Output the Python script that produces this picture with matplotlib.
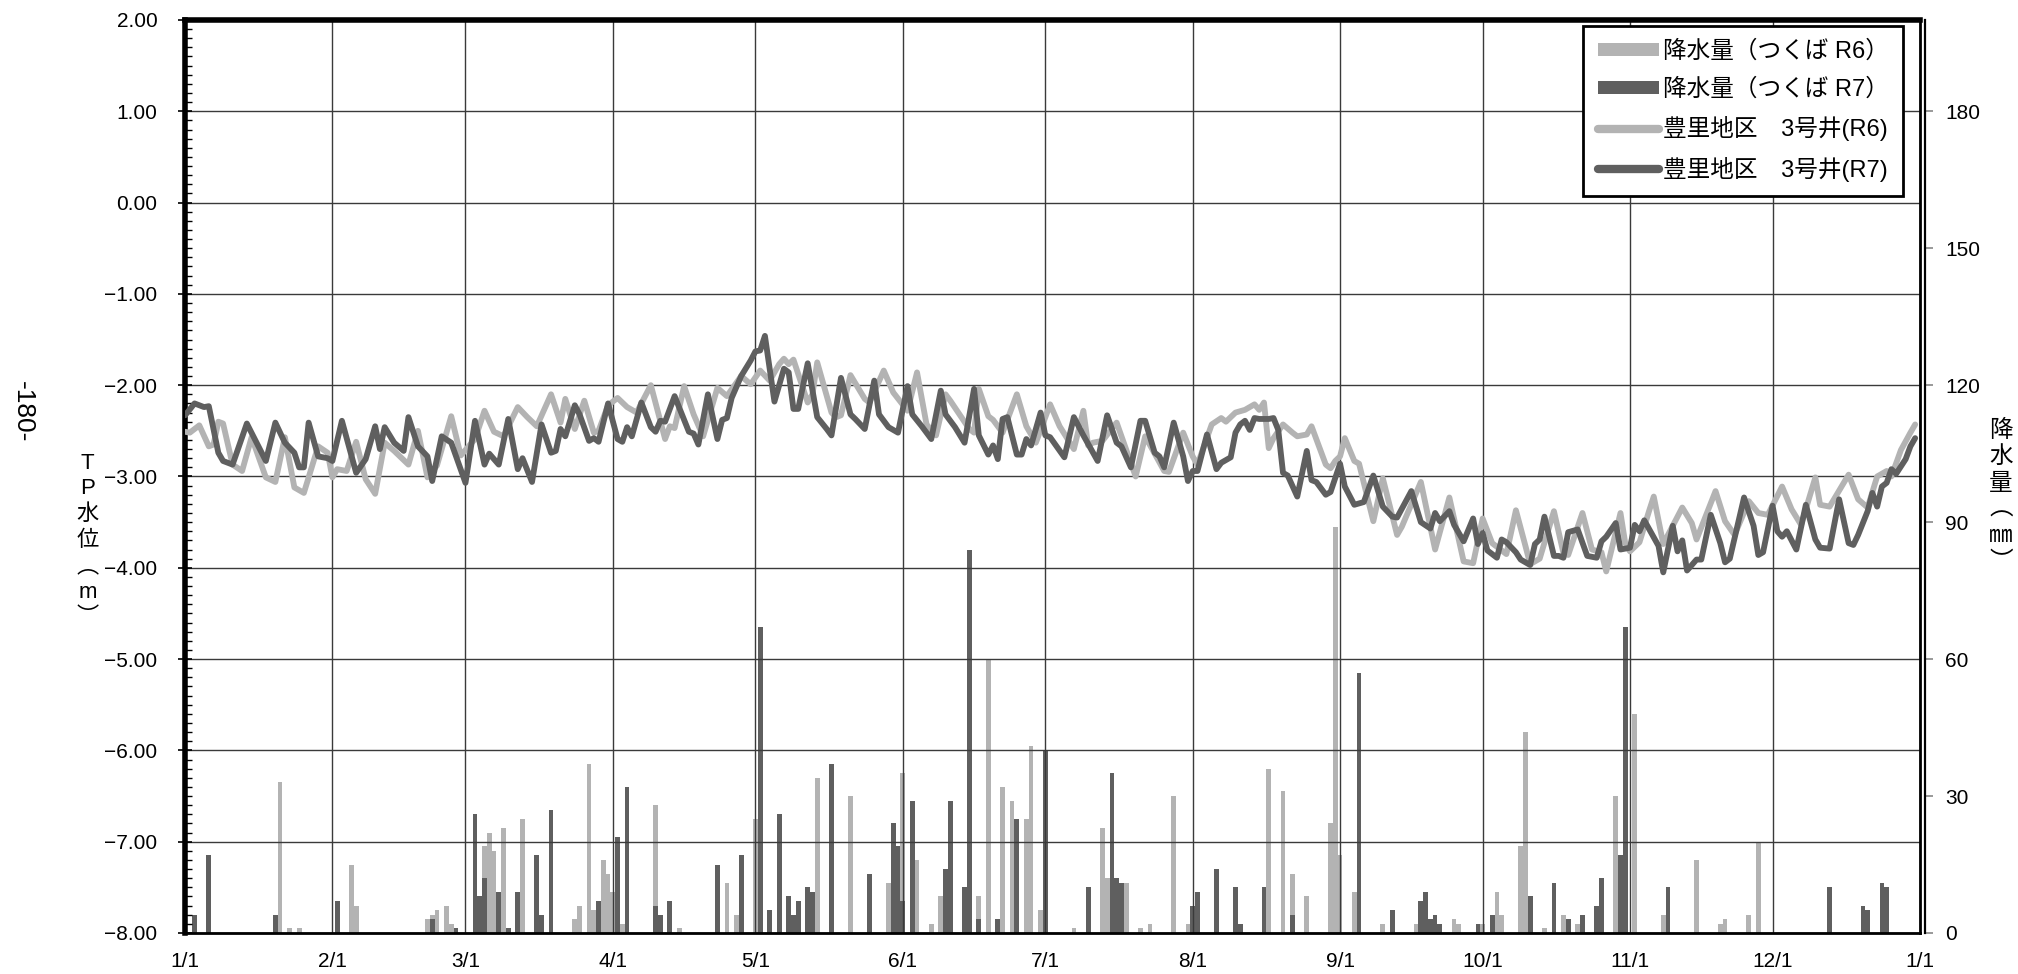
import matplotlib
matplotlib.use("Agg")
import matplotlib.pyplot as plt
from matplotlib.lines import Line2D
from matplotlib.patches import Patch
from matplotlib.ticker import MultipleLocator, FuncFormatter

plt.rcParams['font.family'] = ['Liberation Sans', 'Noto Sans CJK JP', 'DejaVu Sans']

# x axis: day of year (0 = 1/1)
month_days = [0, 31, 59, 90, 120, 151, 181, 212, 243, 273, 304, 334, 365]
month_labels = ["1/1", "2/1", "3/1", "4/1", "5/1", "6/1", "7/1",
                "8/1", "9/1", "10/1", "11/1", "12/1", "1/1"]

# groundwater level T.P. (m), R6 (light)
r6_days = [0, 1, 3, 5, 6, 7, 8, 10, 12, 14, 17, 19, 21, 23, 25, 28, 30, 31, 32, 34,
           36, 38, 40, 42, 44, 47, 49, 51, 53, 56, 58, 61, 63, 65, 67, 70, 72, 74, 77, 79,
           80, 82, 84, 86, 87, 89, 91, 93, 95, 98, 101, 102, 103, 105, 107, 109, 112, 114, 117, 119,
           121, 123, 125, 126, 127, 128, 131, 132, 133, 136, 137, 138, 140, 143, 144, 147, 149, 152, 154, 156,
           158, 160, 161, 165, 166, 167, 169, 170, 172, 175, 177, 179, 182, 184, 187, 189, 190, 191, 193, 196,
           200, 202, 206, 207, 210, 212, 213, 216, 218, 219, 221, 223, 225, 226, 227, 228, 229, 231, 233, 234,
           236, 237, 240, 241, 242, 243, 244, 246, 247, 250, 252, 255, 256, 260, 263, 266, 269, 271, 273, 275,
           278, 280, 282, 283, 285, 288, 290, 291, 294, 296, 298, 299, 302, 303, 304, 306, 308, 309, 311, 315,
           317, 318, 322, 324, 326, 329, 331, 333, 336, 338, 340, 343, 344, 346, 350, 352, 354, 356, 358, 359,
           361, 363, 364]
r6_level = [-2.51, -2.52, -2.44, -2.67, -2.65, -2.40, -2.42, -2.87, -2.94, -2.57, -3.01, -3.06, -2.57, -3.12, -3.18, -2.67, -2.74, -3.01, -2.92, -2.94,
            -2.62, -3.03, -3.19, -2.63, -2.72, -2.87, -2.50, -3.01, -2.88, -2.34, -2.77, -2.59, -2.28, -2.51, -2.56, -2.24, -2.35, -2.45, -2.10, -2.41,
            -2.15, -2.48, -2.17, -2.52, -2.50, -2.22, -2.14, -2.24, -2.30, -2.00, -2.59, -2.45, -2.47, -2.01, -2.32, -2.56, -2.03, -2.12, -1.90, -1.99,
            -1.84, -1.95, -1.77, -1.71, -1.77, -1.72, -2.19, -2.10, -1.75, -2.30, -2.35, -2.33, -1.89, -2.15, -2.19, -1.84, -2.08, -2.28, -1.86, -2.43,
            -2.55, -2.10, -2.17, -2.48, -2.52, -2.04, -2.34, -2.38, -2.52, -2.10, -2.45, -2.63, -2.21, -2.45, -2.70, -2.28, -2.66, -2.63, -2.61, -2.41,
            -3.00, -2.56, -2.94, -2.95, -2.52, -2.78, -2.87, -2.43, -2.36, -2.40, -2.30, -2.27, -2.21, -2.27, -2.19, -2.69, -2.58, -2.43, -2.52, -2.56,
            -2.54, -2.45, -2.87, -2.91, -2.83, -2.78, -2.58, -2.83, -2.86, -3.49, -3.02, -3.64, -3.55, -3.06, -3.80, -3.23, -3.93, -3.95, -3.46, -3.73,
            -3.85, -3.37, -3.76, -3.96, -3.90, -3.38, -3.84, -3.86, -3.40, -3.80, -3.83, -4.04, -3.40, -3.73, -3.82, -3.72, -3.38, -3.22, -3.74, -3.34,
            -3.51, -3.69, -3.16, -3.49, -3.64, -3.27, -3.40, -3.42, -3.11, -3.36, -3.53, -3.01, -3.31, -3.33, -2.98, -3.25, -3.34, -3.00, -2.94, -3.00,
            -2.71, -2.52, -2.43]

# groundwater level T.P. (m), R7 (dark)
r7_days = [0, 2, 4, 5, 7, 8, 10, 13, 17, 19, 21, 23, 24, 25, 26, 28, 30, 31, 33, 36,
           38, 40, 41, 42, 44, 46, 47, 49, 51, 52, 54, 56, 59, 61, 63, 64, 66, 68, 70, 71,
           73, 75, 77, 78, 79, 80, 82, 83, 85, 86, 87, 89, 91, 92, 93, 94, 96, 98, 99, 100,
           101, 103, 106, 107, 108, 110, 112, 113, 114, 115, 117, 119, 120, 121, 122, 124, 126, 127, 128, 129,
           131, 133, 135, 136, 138, 140, 141, 143, 145, 146, 148, 150, 152, 153, 155, 157, 159, 160, 162, 164,
           166, 167, 169, 170, 171, 172, 173, 175, 176, 177, 178, 180, 181, 182, 185, 187, 189, 192, 194, 196,
           197, 199, 201, 202, 204, 205, 206, 208, 210, 211, 212, 213, 215, 217, 218, 220, 221, 222, 223, 224,
           225, 226, 228, 229, 230, 231, 232, 234, 236, 237, 238, 240, 241, 243, 244, 246, 248, 250, 252, 254,
           255, 258, 260, 262, 263, 264, 266, 267, 269, 271, 272, 273, 274, 276, 277, 278, 280, 281, 283, 284,
           285, 286, 288, 289, 290, 291, 293, 295, 297, 298, 299, 301, 302, 304, 305, 306, 307, 310, 311, 313,
           314, 315, 316, 318, 319, 321, 323, 324, 325, 328, 330, 331, 332, 334, 335, 336, 337, 339, 341, 343,
           344, 346, 348, 350, 351, 352, 354, 355, 356, 357, 358, 359, 360, 362, 363, 364]
r7_level = [-2.33, -2.20, -2.24, -2.23, -2.74, -2.83, -2.87, -2.42, -2.83, -2.41, -2.63, -2.74, -2.90, -2.90, -2.41, -2.78, -2.80, -2.83, -2.39, -2.96,
            -2.81, -2.45, -2.70, -2.46, -2.63, -2.72, -2.35, -2.67, -2.78, -3.05, -2.56, -2.63, -3.07, -2.39, -2.87, -2.75, -2.87, -2.37, -2.92, -2.80,
            -3.06, -2.43, -2.74, -2.72, -2.48, -2.56, -2.22, -2.32, -2.61, -2.58, -2.62, -2.20, -2.59, -2.62, -2.46, -2.56, -2.19, -2.46, -2.51, -2.39,
            -2.40, -2.12, -2.51, -2.53, -2.65, -2.10, -2.59, -2.38, -2.36, -2.14, -1.90, -1.73, -1.63, -1.62, -1.46, -2.18, -1.82, -1.86, -2.26, -2.26,
            -1.76, -2.35, -2.48, -2.55, -1.92, -2.32, -2.37, -2.48, -1.95, -2.32, -2.46, -2.52, -2.01, -2.32, -2.45, -2.59, -2.06, -2.32, -2.46, -2.63,
            -2.04, -2.55, -2.76, -2.66, -2.81, -2.37, -2.35, -2.76, -2.76, -2.59, -2.66, -2.30, -2.55, -2.57, -2.79, -2.35, -2.55, -2.83, -2.33, -2.63,
            -2.67, -2.90, -2.39, -2.39, -2.74, -2.78, -2.90, -2.41, -2.78, -3.05, -2.94, -2.94, -2.54, -2.92, -2.85, -2.79, -2.52, -2.43, -2.39, -2.49,
            -2.36, -2.37, -2.37, -2.36, -2.49, -2.96, -2.99, -3.22, -2.72, -3.04, -3.06, -3.20, -3.17, -2.86, -3.11, -3.31, -3.28, -2.99, -3.33, -3.44,
            -3.45, -3.16, -3.50, -3.57, -3.40, -3.49, -3.38, -3.53, -3.71, -3.46, -3.74, -3.62, -3.81, -3.89, -3.69, -3.72, -3.83, -3.91, -3.97, -3.74,
            -3.69, -3.44, -3.87, -3.87, -3.89, -3.61, -3.58, -3.87, -3.89, -3.71, -3.66, -3.51, -3.80, -3.78, -3.53, -3.60, -3.48, -3.76, -4.05, -3.54,
            -3.82, -3.70, -4.03, -3.91, -3.91, -3.42, -3.73, -3.94, -3.90, -3.23, -3.54, -3.86, -3.83, -3.32, -3.60, -3.66, -3.60, -3.80, -3.31, -3.69,
            -3.78, -3.79, -3.25, -3.73, -3.75, -3.64, -3.38, -3.18, -3.33, -3.11, -3.07, -2.92, -2.97, -2.81, -2.67, -2.58]

# daily precipitation at Tsukuba (mm)
rain_r6_days = [20, 22, 24, 35, 36, 51, 52, 53, 55, 56, 61, 63, 64, 65, 67, 71, 82, 83, 85, 86,
                88, 89, 90, 92, 99, 104, 114, 116, 120, 133, 140, 148, 151, 154, 157, 159, 167, 169, 172, 174,
                177, 178, 180, 187, 193, 194, 197, 198, 201, 203, 208, 211, 228, 231, 233, 236, 241, 242, 243, 246,
                252, 254, 259, 262, 267, 268, 273, 275, 276, 277, 281, 282, 286, 290, 293, 298, 301, 302, 305, 311,
                318, 323, 324, 329, 331]
rain_r6_mm = [33, 1, 1, 15, 6, 3, 4, 5, 6, 2, 11, 19, 22, 18, 23, 25, 3, 6, 37, 5,
              16, 13, 9, 2, 28, 1, 11, 4, 25, 34, 30, 11, 35, 16, 2, 8, 8, 60, 32, 29,
              25, 41, 5, 1, 23, 12, 11, 11, 1, 2, 30, 2, 36, 31, 13, 8, 24, 89, 17, 9,
              2, 2, 2, 3, 3, 2, 2, 3, 9, 4, 19, 44, 1, 4, 2, 2, 30, 16, 48, 4,
              16, 2, 3, 4, 20]
rain_r7_days = [2, 5, 19, 32, 52, 57, 61, 62, 63, 66, 68, 70, 74, 75, 77, 87, 91, 93, 99, 100,
                102, 112, 117, 121, 123, 125, 127, 128, 129, 131, 132, 136, 144, 149, 150, 151, 153, 160, 161, 164,
                165, 167, 171, 175, 181, 190, 195, 196, 197, 212, 213, 217, 221, 222, 227, 233, 247, 254, 260, 261,
                262, 263, 264, 272, 275, 283, 288, 291, 294, 297, 298, 302, 303, 312, 346, 353, 354, 357, 358]
rain_r7_mm = [4, 17, 4, 7, 3, 1, 26, 8, 12, 9, 1, 9, 17, 4, 27, 7, 21, 32, 6, 4,
              7, 15, 17, 67, 5, 26, 8, 4, 7, 10, 9, 37, 13, 24, 19, 7, 29, 14, 29, 10,
              84, 3, 3, 25, 40, 10, 35, 12, 11, 6, 9, 14, 10, 2, 10, 4, 57, 5, 7, 9,
              3, 4, 2, 2, 4, 8, 11, 3, 4, 6, 12, 17, 67, 10, 10, 6, 5, 11, 10]

light = '#b3b3b3'
dark = '#5f5f5f'

fig = plt.figure(figsize=(20.18, 9.74), dpi=100)
ax = fig.add_axes([0.0917, 0.0421, 0.8597, 0.9374])
ax2 = ax.twinx()
ax.set_zorder(ax2.get_zorder() + 1)
ax.patch.set_visible(False)

# precipitation bars (right axis)
ax2.bar(rain_r6_days, rain_r6_mm, width=1.0, color=light, linewidth=0)
ax2.bar(rain_r7_days, rain_r7_mm, width=1.0, color=dark, linewidth=0)
ax2.set_ylim(0, 200)
ax2.set_yticks(range(0, 181, 30))
ax2.tick_params(axis='y', direction='out', length=6, width=1.2, color='#888888',
                labelsize=15, pad=8)
ax2.spines['right'].set_position(('outward', 4))
ax2.spines['right'].set_linewidth(1.6)
for s in ['left', 'top', 'bottom']:
    ax2.spines[s].set_visible(False)

# water level lines (left axis)
ax.plot(r6_days, r6_level, color=light, lw=4.2, solid_joinstyle='round',
        solid_capstyle='round', zorder=3)
ax.plot(r7_days, r7_level, color=dark, lw=4.2, solid_joinstyle='round',
        solid_capstyle='round', zorder=4)

ax.set_xlim(0, 365)
ax.set_ylim(-8, 2)
ax.set_xticks(month_days)
ax.set_xticklabels(month_labels)
ax.yaxis.set_major_locator(MultipleLocator(1))
ax.yaxis.set_minor_locator(MultipleLocator(0.1))
ax.yaxis.set_major_formatter(FuncFormatter(lambda v, p: f"{v:.2f}".replace("-", "\u2212")))
ax.tick_params(axis='y', which='major', direction='inout', length=10, width=1.2, labelsize=15, pad=15)
ax.tick_params(axis='y', which='minor', direction='in', length=5, width=1)
ax.tick_params(axis='x', direction='out', length=0, labelsize=15, pad=14)
ax.grid(True, which='major', color='#3a3a3a', lw=1.0)
ax.set_axisbelow(True)

ax.spines['left'].set_linewidth(4)
ax.spines['top'].set_linewidth(4)
ax.spines['bottom'].set_linewidth(2)
ax.spines['right'].set_linewidth(2)

handles = [
    Patch(facecolor=light, edgecolor='none'),
    Patch(facecolor=dark, edgecolor='none'),
    Line2D([], [], color=light, lw=6, solid_capstyle='round'),
    Line2D([], [], color=dark, lw=6, solid_capstyle='round'),
]
labels = ["降水量（つくば R6）", "降水量（つくば R7）",
          "豊里地区\u30003号井(R6)", "豊里地区\u30003号井(R7)"]
leg = ax.legend(handles, labels, loc='upper right', bbox_to_anchor=(0.990, 0.993),
                borderaxespad=0, fontsize=17, fancybox=False, framealpha=1,
                edgecolor='black', handlelength=2.6, handleheight=0.45,
                handletextpad=0.15, labelspacing=0.65, borderpad=0.6)
leg.get_frame().set_linewidth(2)

fig.text(0.0435, 0.445, "T\nP\n水\n位\n︵\nm\n︶", ha='center', va='center',
         fontsize=16, linespacing=1.3)
fig.text(0.9915, 0.49, "降\n水\n量\n︵\n㎜\n︶", ha='center', va='center',
         fontsize=17, linespacing=1.25)
fig.text(0.0115, 0.577, "-180-", rotation=-90, ha='center', va='center', fontsize=19)

fig.savefig("out.png", dpi=100)
